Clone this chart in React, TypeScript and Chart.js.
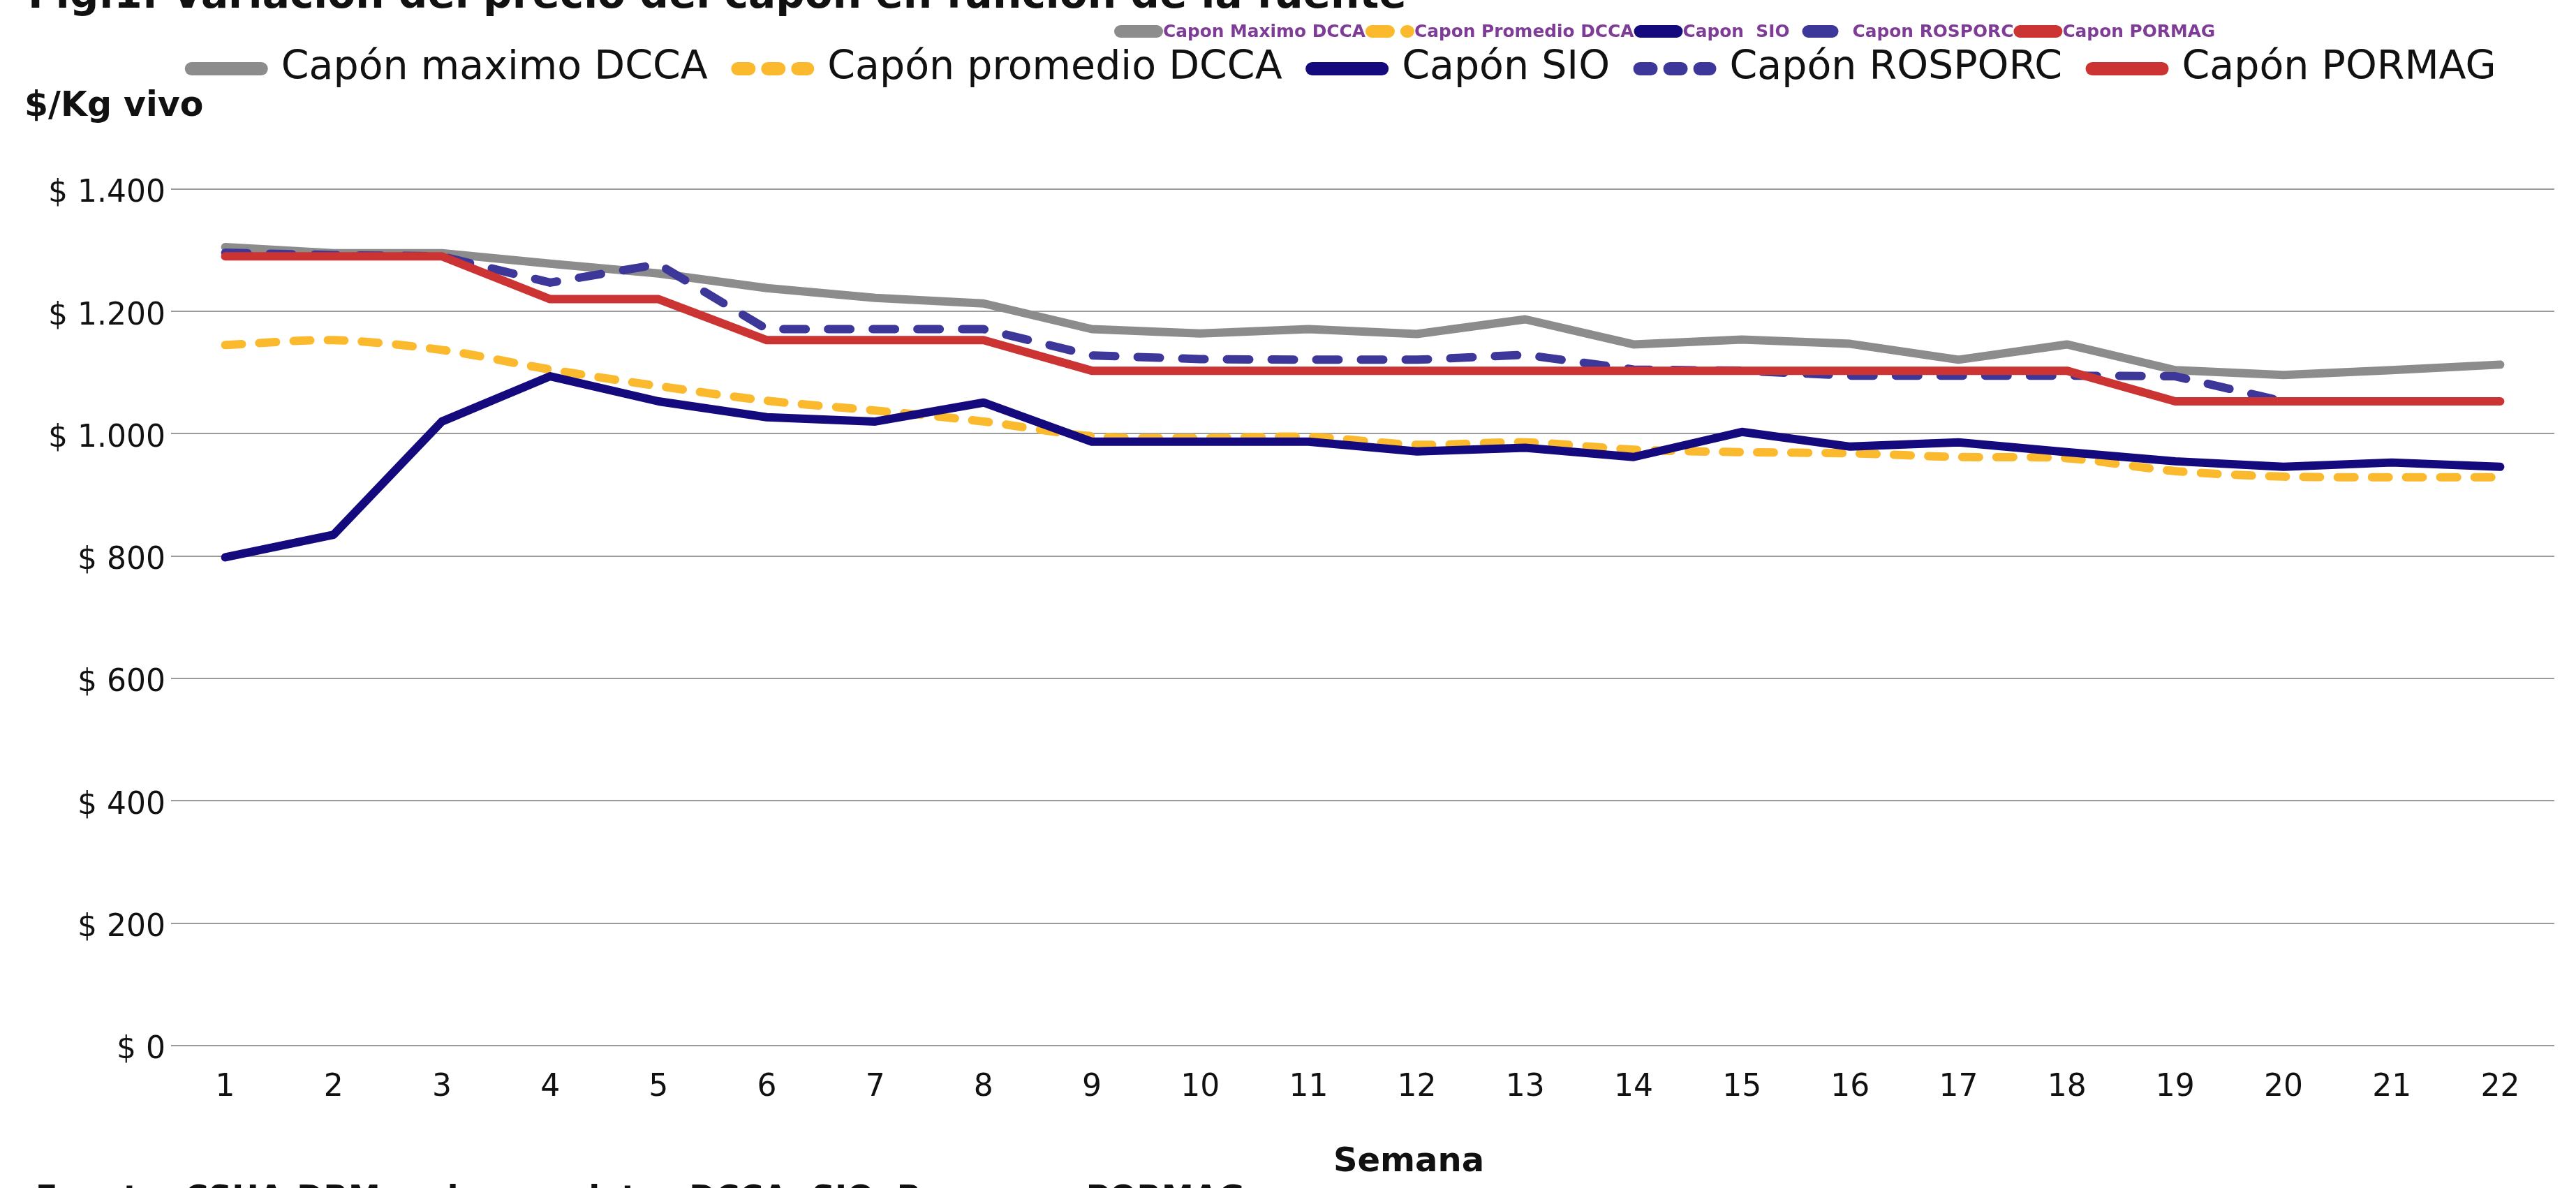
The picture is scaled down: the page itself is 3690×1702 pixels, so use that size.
import React, { useEffect, useRef } from 'react';
import { Chart, registerables } from 'chart.js';

Chart.register(...registerables);

// ---------- data ----------
const weeks = ['1', '2', '3', '4', '5', '6', '7', '8', '9', '10', '11', '12', '13', '14', '15', '16', '17', '18', '19', '20', '21', '22'];

const maximoDCCA = [1305, 1295, 1295, 1278, 1262, 1238, 1222, 1213, 1171, 1164, 1171, 1163, 1187, 1146, 1154, 1147, 1121, 1146, 1104, 1096, 1104, 1113];
const promedioDCCA = [1145, 1153, 1137, 1105, 1078, 1054, 1038, 1020, 996, 993, 995, 982, 986, 974, 970, 968, 962, 960, 939, 930, 929, 929];
const sio = [798, 835, 1020, 1094, 1053, 1027, 1020, 1051, 987, 987, 987, 971, 977, 962, 1003, 979, 986, 970, 955, 946, 953, 946];
const rosporc = [1296, 1292, 1290, 1247, 1277, 1171, 1171, 1171, 1128, 1122, 1121, 1121, 1129, 1105, 1103, 1095, 1095, 1095, 1094, 1053, 1053, 1053];
const pormag = [1290, 1290, 1290, 1220, 1220, 1153, 1153, 1153, 1103, 1103, 1103, 1103, 1103, 1103, 1103, 1103, 1103, 1103, 1053, 1053, 1053, 1053];

const seriesLabels = ['Capón maximo DCCA', 'Capón promedio DCCA', 'Capón SIO', 'Capón ROSPORC', 'Capón PORMAG'];
const miniLegendLabels = ['Capon Maximo DCCA', 'Capon Promedio DCCA', 'Capon  SIO', 'Capon ROSPORC', 'Capon PORMAG'];
const yTicks = [0, 200, 400, 600, 800, 1000, 1200, 1400];

const figureTitle = 'Fig.1. Variación del precio del capón en función de la fuente';
const yAxisTitle = '$/Kg vivo';
const xAxisTitle = 'Semana';
const footerText = 'Fuente: CSHA-DRM en base a datos DCCA, SIO, Rosporc y PORMAG';

// ---------- styles ----------
const FONT = '"DejaVu Sans", sans-serif';
const colors = ['#8c8c8c', '#fbb92d', '#140a7e', '#3c3798', '#cc3333'];
const chartDashes = [[], [24, 25], [], [32, 32], []];
const legendDashes = [[], [16, 27], [], [16, 27], []];
const drawOrder = [5, 4, 3, 2, 1];
const tensions = [0, 0.3, 0, 0, 0];

const fmt = (v: number) => '$ ' + String(v).replace(/\B(?=(\d{3})+(?!\d))/g, '.');

const legendShiftPlugin = {
  id: 'legendShift',
  afterLayout(chart: any) {
    const lg = chart.legend;
    if (lg) {
      lg.left -= 27;
      lg.right -= 27;
    }
  },
};

const extrasPlugin = {
  id: 'extras',
  afterDraw(chart: any) {
    const ctx = chart.ctx as CanvasRenderingContext2D;
    ctx.save();
    // main figure title (cut at the top edge)
    ctx.font = `bold 100px ${FONT}`;
    const w100 = ctx.measureText(figureTitle).width;
    const tSize = (100 * 1975) / w100;
    ctx.font = `bold ${tSize}px ${FONT}`;
    ctx.fillStyle = '#111111';
    ctx.textAlign = 'left';
    ctx.textBaseline = 'alphabetic';
    ctx.fillText(figureTitle, 40, 11);

    // small purple legend
    ctx.font = `bold 100px ${FONT}`;
    const m100 = ctx.measureText(miniLegendLabels[0]).width;
    const mSize = (100 * 290) / m100;
    ctx.font = `bold ${mSize}px ${FONT}`;
    ctx.textBaseline = 'middle';
    let x = 1596;
    const yc = 45;
    miniLegendLabels.forEach((lab, i) => {
      ctx.save();
      ctx.strokeStyle = colors[i];
      ctx.lineWidth = 18;
      ctx.lineCap = 'round';
      ctx.setLineDash(i === 1 ? [24, 26] : []);
      ctx.beginPath();
      const segLen = i === 3 ? 34 : 52;
      const off = i === 3 ? 8 : 0;
      ctx.moveTo(x + 9 + off, yc);
      ctx.lineTo(x + 9 + off + segLen, yc);
      ctx.stroke();
      ctx.restore();
      const tx = x + 70 + (i === 3 ? 10 : 0);
      ctx.fillStyle = '#7e3b98';
      ctx.fillText(lab, tx, yc + 2);
      x = tx + ctx.measureText(lab).width + (i === 2 ? 10 : 0);
    });

    // x-axis title
    ctx.font = `bold 48px ${FONT}`;
    ctx.fillStyle = '#111111';
    ctx.textAlign = 'center';
    ctx.textBaseline = 'middle';
    ctx.fillText(xAxisTitle, 2018, 1666);

    // footer (cut at the bottom edge)
    ctx.font = `bold 46px ${FONT}`;
    ctx.textAlign = 'left';
    ctx.textBaseline = 'alphabetic';
    ctx.fillText(footerText, 51, 1731);
    ctx.restore();
  },
};

export default function App() {
  const ref = useRef<HTMLCanvasElement>(null);

  useEffect(() => {
    const canvas = ref.current;
    if (!canvas) return;
    Chart.defaults.font.family = FONT;
    const seriesData = [maximoDCCA, promedioDCCA, sio, rosporc, pormag];
    const chart = new Chart(canvas, {
      type: 'line',
      data: {
        labels: weeks,
        datasets: seriesData.map((d, i) => ({
          label: seriesLabels[i],
          data: d,
          borderColor: colors[i],
          backgroundColor: colors[i],
          borderWidth: 12,
          borderDash: chartDashes[i],
          borderCapStyle: 'round' as const,
          borderJoinStyle: 'round' as const,
          pointRadius: 0,
          pointHoverRadius: 0,
          tension: tensions[i],
          fill: false,
          order: drawOrder[i],
        })),
      },
      options: {
        responsive: false,
        animation: false,
        devicePixelRatio: 1,
        layout: { padding: { top: 27, left: 35, right: 31, bottom: 0 } },
        plugins: {
          tooltip: { enabled: false },
          legend: {
            display: true,
            position: 'top',
            align: 'center',
            fullSize: false,
            weight: 3000,
            labels: {
              font: { family: FONT, size: 57 },
              color: '#111111',
              usePointStyle: true,
              pointStyleWidth: 100,
              boxHeight: 19,
              padding: 43,
              generateLabels: (ch: any) =>
                ch.data.datasets.map((ds: any, i: number) => ({
                  text: ds.label,
                  fillStyle: colors[i],
                  strokeStyle: colors[i],
                  lineWidth: 19,
                  lineCap: 'round',
                  lineJoin: 'round',
                  lineDash: legendDashes[i],
                  lineDashOffset: 0,
                  pointStyle: 'line',
                  hidden: false,
                  datasetIndex: i,
                  fontColor: '#111111',
                })),
            },
          } as any,
          title: {
            display: true,
            text: yAxisTitle,
            align: 'start',
            position: 'top',
            color: '#111111',
            font: { family: FONT, size: 49, weight: 'bold', lineHeight: 1.2 },
            padding: { top: -13, bottom: 88 },
          },
        },
        scales: {
          x: {
            type: 'category',
            offset: true,
            grid: { display: false, drawTicks: false },
            border: { display: false },
            ticks: {
              font: { family: FONT, size: 44 },
              color: '#111111',
              padding: 34,
              maxRotation: 0,
              autoSkip: false,
            },
            afterFit: (s: any) => {
              s.height = 204;
            },
          },
          y: {
            min: yTicks[0],
            max: yTicks[yTicks.length - 1],
            grid: { color: '#9b9b9b', lineWidth: 2, drawTicks: false },
            border: { display: false },
            ticks: {
              stepSize: yTicks[1] - yTicks[0],
              font: { family: FONT, size: 44 },
              color: '#111111',
              padding: 8,
              labelOffset: 7,
              callback: (v: any) => fmt(Number(v)),
            },
            afterFit: (s: any) => {
              s.width = 210;
            },
          },
        },
      },
      plugins: [legendShiftPlugin, extrasPlugin],
    } as any);
    return () => chart.destroy();
  }, []);

  return (
    <div style={{ position: 'fixed', left: 0, top: 0, width: 3690, height: 1702, background: '#ffffff' }}>
      <canvas ref={ref} width={3690} height={1702} style={{ width: 3690, height: 1702, display: 'block' }} />
    </div>
  );
}
